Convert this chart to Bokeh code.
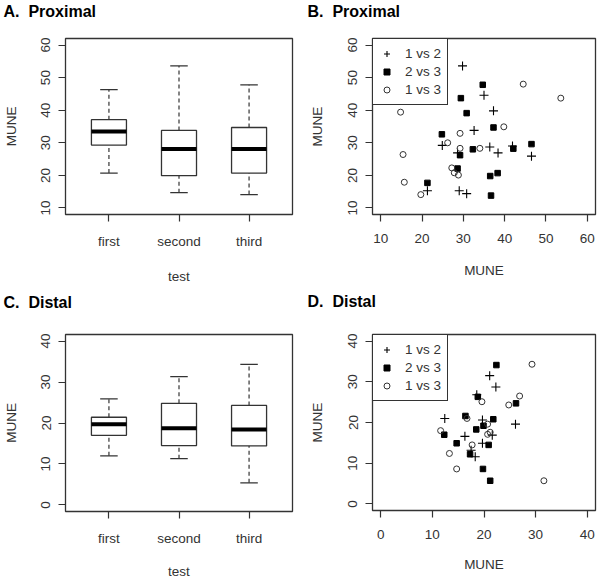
from bokeh.plotting import figure
from bokeh.models import Range1d, FixedTicker, Legend, LegendItem, ColumnDataSource, Title
from bokeh.layouts import column, row
from bokeh.transform import dodge
from bokeh.embed import file_html
from bokeh.resources import INLINE

# ---------------- data ----------------
tests = ["first", "second", "third"]
test_pos = [1, 2, 3]

# Proximal MUNE box statistics (A)
prox_lo = [20.7, 14.7, 14.1]
prox_q1 = [29.3, 19.9, 20.7]
prox_med = [33.5, 28.1, 28.1]
prox_q3 = [37.1, 33.8, 34.7]
prox_hi = [46.3, 53.6, 47.8]

# Distal MUNE box statistics (C)
dist_lo = [12.0, 11.3, 5.4]
dist_q1 = [17.0, 14.5, 14.4]
dist_med = [19.7, 18.7, 18.4]
dist_q3 = [21.4, 24.8, 24.3]
dist_hi = [25.9, 31.3, 34.3]

# Proximal pairs (B)
prox_12_x = [29.8, 35.0, 37.3, 32.6, 24.9, 36.4, 38.4, 41.9, 46.5, 28.6, 29.0, 30.8, 21.3]
prox_12_y = [53.6, 44.6, 39.8, 33.8, 29.2, 28.7, 26.9, 29.0, 25.9, 26.9, 15.3, 14.4, 15.3]
prox_23_x = [34.7, 29.4, 30.8, 37.3, 24.8, 46.5, 32.3, 42.1, 29.2, 28.6, 38.3, 36.5, 21.3, 36.7]
prox_23_y = [47.8, 43.7, 39.1, 34.7, 32.6, 29.6, 28.0, 28.2, 26.2, 22.1, 20.7, 19.8, 17.7, 13.8]
prox_13_x = [14.8, 44.5, 53.6, 39.8, 29.2, 26.2, 29.2, 34.0, 15.4, 27.2, 27.8, 28.8, 15.7, 19.7]
prox_13_y = [39.4, 48.0, 43.7, 34.9, 32.9, 30.0, 28.3, 28.3, 26.4, 22.3, 20.8, 20.1, 17.9, 14.1]

# Distal pairs (D)
dist_12_x = [21.1, 22.3, 18.6, 12.4, 26.1, 19.7, 16.3, 21.6, 19.7, 18.3, 17.5]
dist_12_y = [31.5, 28.7, 26.8, 21.0, 19.6, 20.6, 16.6, 16.9, 14.9, 11.6, 13.2]
dist_23_x = [22.4, 18.8, 26.2, 16.4, 21.8, 19.9, 18.5, 12.3, 14.7, 20.9, 17.3, 19.8, 21.2]
dist_23_y = [34.1, 26.3, 24.7, 21.6, 20.8, 19.2, 18.3, 17.0, 14.9, 14.5, 12.2, 8.6, 5.7]
dist_13_x = [29.3, 26.9, 24.8, 19.6, 16.7, 20.7, 21.2, 11.6, 17.7, 13.3, 14.7, 31.6, 20.7]
dist_13_y = [34.3, 26.5, 24.3, 25.1, 21.0, 19.6, 17.6, 18.0, 14.5, 12.4, 8.6, 5.7, 17.1]

legend_labels = ["1 vs 2", "2 vs 3", "1 vs 3"]
panel_titles = ["A.\u00a0 Proximal", "B.\u00a0 Proximal", "C.\u00a0 Distal", "D.\u00a0 Distal"]

# ---------------- style ----------------
FONT = "Liberation Sans"
TXT = "#333333"
LINE = "#333333"


def make_fig(title, frame_w, frame_h, bl, br, bt, bb, xr, yr, title_off, gap,
             ylab_standoff, xlab_standoff=17):
    p = figure(frame_width=frame_w, frame_height=frame_h,
               min_border_left=bl, min_border_right=br,
               min_border_top=bt, min_border_bottom=bb,
               x_range=Range1d(*xr), y_range=Range1d(*yr),
               toolbar_location=None, output_backend="svg")
    # spacer panel between the frame and the panel heading
    p.add_layout(Title(text="\u00a0", text_font_size="1px", standoff=gap,
                       text_color="white"), "above")
    p.add_layout(Title(text=title, align="left", offset=title_off, vertical_align="bottom",
                       standoff=-6, text_font=FONT, text_font_size="16px",
                       text_font_style="bold", text_color="black"), "above")
    p.xgrid.visible = False
    p.ygrid.visible = False
    p.outline_line_color = LINE
    p.outline_line_width = 1.3
    p.background_fill_color = "white"
    p.border_fill_color = "white"
    for ax in (p.xaxis[0], p.yaxis[0]):
        ax.axis_line_color = None
        ax.major_tick_in = 0
        ax.major_tick_out = 7
        ax.major_tick_line_color = LINE
        ax.major_tick_line_width = 1.2
        ax.minor_tick_line_color = None
        ax.major_label_text_font = FONT
        ax.major_label_text_font_size = "13.5px"
        ax.major_label_text_color = TXT
        ax.axis_label_text_font = FONT
        ax.axis_label_text_font_size = "13.5px"
        ax.axis_label_text_font_style = "normal"
        ax.axis_label_text_color = TXT
    p.xaxis.major_label_standoff = 12
    p.xaxis.axis_label_standoff = xlab_standoff
    p.yaxis.major_label_standoff = 8
    p.yaxis.axis_label_standoff = ylab_standoff
    p.yaxis.major_label_orientation = "vertical"
    return p


def boxplot(p, lo, q1, med, q3, hi):
    src = ColumnDataSource(dict(x=test_pos, lo=lo, q1=q1, med=med, q3=q3, hi=hi))
    p.segment(x0="x", y0="q3", x1="x", y1="hi", source=src, line_color=LINE,
              line_width=1.2, line_dash="4 3")
    p.segment(x0="x", y0="lo", x1="x", y1="q1", source=src, line_color=LINE,
              line_width=1.2, line_dash="4 3")
    p.segment(x0=dodge("x", -0.125), y0="hi", x1=dodge("x", 0.125), y1="hi",
              source=src, line_color=LINE, line_width=1.3)
    p.segment(x0=dodge("x", -0.125), y0="lo", x1=dodge("x", 0.125), y1="lo",
              source=src, line_color=LINE, line_width=1.3)
    p.vbar(x="x", width=0.5, bottom="q1", top="q3", source=src,
           fill_color="white", line_color=LINE, line_width=1.3)
    p.segment(x0=dodge("x", -0.25), y0="med", x1=dodge("x", 0.25), y1="med",
              source=src, line_color="black", line_width=4)
    p.xaxis.ticker = FixedTicker(ticks=test_pos)
    p.xaxis.major_label_overrides = {k: v for k, v in zip(test_pos, tests)}
    p.xaxis.axis_label = "test"
    p.yaxis.axis_label = "MUNE"


def scatter(p, x12, y12, x23, y23, x13, y13, ticks):
    r1 = p.scatter(x12, y12, marker="cross", size=9, line_color="black", line_width=1.1)
    r2 = p.scatter(x23, y23, marker="square", size=5.5, fill_color="black", line_color="black")
    r3 = p.scatter(x13, y13, marker="circle", size=6, fill_color=None,
                   line_color="#333333", line_width=1)
    p.xaxis.ticker = FixedTicker(ticks=ticks)
    p.yaxis.ticker = FixedTicker(ticks=ticks)
    p.xaxis.axis_label = "MUNE"
    p.yaxis.axis_label = "MUNE"
    leg = Legend(items=[LegendItem(label=legend_labels[0], renderers=[r1]),
                        LegendItem(label=legend_labels[1], renderers=[r2]),
                        LegendItem(label=legend_labels[2], renderers=[r3])],
                 location="top_left", margin=0, padding=6, spacing=1,
                 glyph_width=15, glyph_height=17, label_height=17, label_standoff=11,
                 label_text_font=FONT, label_text_font_size="13.5px",
                 label_text_color=TXT, border_line_color=LINE, border_line_width=1.3,
                 border_line_alpha=1.0,
                 background_fill_color="white", background_fill_alpha=1.0)
    p.add_layout(leg)


prox_ticks = [10, 20, 30, 40, 50, 60]
dist_ticks = [0, 10, 20, 30, 40]
prox_lim = (8, 62)
dist_lim = (-1.6, 41.6)
box_x = (0.38, 3.62)

pA = make_fig(panel_titles[0], 227, 176, 65, 8, 38, 76, box_x, prox_lim, -62, 19, 20)
boxplot(pA, prox_lo, prox_q1, prox_med, prox_q3, prox_hi)
pA.yaxis.ticker = FixedTicker(ticks=prox_ticks)

pB = make_fig(panel_titles[1], 223, 176, 72, 5, 38, 76, prox_lim, prox_lim, -65, 19, 21)
scatter(pB, prox_12_x, prox_12_y, prox_23_x, prox_23_y, prox_13_x, prox_13_y, prox_ticks)

pC = make_fig(panel_titles[2], 227, 177, 65, 8, 43, 69, box_x, dist_lim, -62, 24, 20, 15)
boxplot(pC, dist_lo, dist_q1, dist_med, dist_q3, dist_hi)
pC.yaxis.ticker = FixedTicker(ticks=dist_ticks)

pD = make_fig(panel_titles[3], 223, 176, 72, 5, 44, 69, dist_lim, dist_lim, -65, 25, 21, 15)
scatter(pD, dist_12_x, dist_12_y, dist_23_x, dist_23_y, dist_13_x, dist_13_y, dist_ticks)

layout = column(row(pA, pB), row(pC, pD))
open("out.html", "w").write(file_html(layout, INLINE))
